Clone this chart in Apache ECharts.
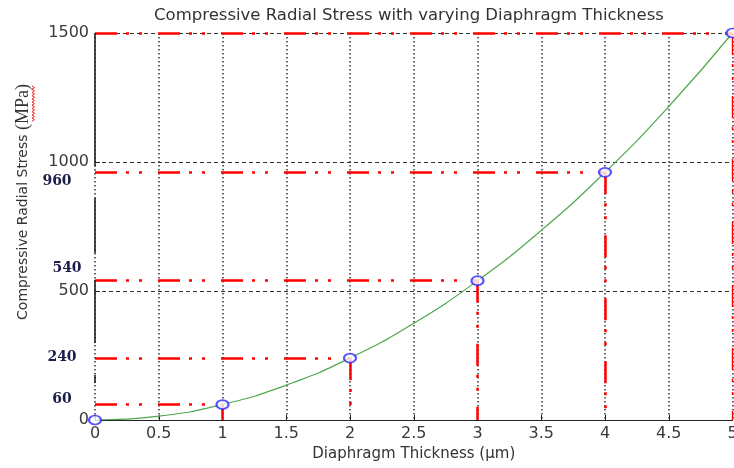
<!DOCTYPE html>
<html><head><meta charset="utf-8">
<script src="https://cdn.jsdelivr.net/npm/echarts@6/dist/echarts.min.js"></script>
<style>html,body{margin:0;padding:0;background:#fff}#c{width:734px;height:468px}</style>
</head><body><div id="c"></div>
<script>
// ---- data ----
var titleText = 'Compressive Radial Stress with varying Diaphragm Thickness';
var xName = 'Diaphragm Thickness (\u00b5m)';
var yNameMain = 'Compressive Radial Stress ';
var yNameUnit = '(MPa)';
// curve read at every 0.5 um grid line
var curveX = [0, 0.5, 1, 1.5, 2, 2.5, 3, 3.5, 4, 4.5, 5];
var curveY = [0, 15, 60, 135, 240, 375, 540, 735, 960, 1215, 1500];
// marked points
var pointX = [0, 1, 2, 3, 4, 5];
var pointY = [0, 60, 240, 540, 960, 1500];
// annotation labels beside the y axis
var noteLabels = ['960', '540', '240', '60'];
// visible pieces of the (partly covered) y-axis line, in stress units
var axisPieces = [[1500, 983], [860, 647], [543, 298], [174, 143]];
var xTicks = {min: 0, max: 5, interval: 0.5};
var yTicks = {min: 0, max: 1500, interval: 500};

var chart = echarts.init(document.getElementById('c'), null, {renderer: 'canvas'});
var font = 'DejaVu Sans';
var red = '#ff0000';
var dashDot = [22, 9, 3, 10, 3, 16];

var redLines = [];
for (var i = 1; i < pointX.length; i++) {
  var last = i === pointX.length - 1;
  redLines.push([{coord: [0, pointY[i]], lineStyle: {width: 2.5}}, {coord: [pointX[i], pointY[i]]}]);
  redLines.push([{coord: [pointX[i], pointY[i]], lineStyle: {width: last ? 1.4 : 2.5}}, {coord: [pointX[i], 0]}]);
}
var axisLines = axisPieces.map(function (p) { return [{coord: [0, p[0]]}, {coord: [0, p[1]]}]; });

var notePos = [[57, 181], [67, 268], [62, 357], [62, 399]];
var graphics = [
  {type: 'text', x: 409, y: 16, style: {text: titleText, font: '16.5px "DejaVu Sans"', fill: '#333', align: 'center', verticalAlign: 'middle'}},
  {type: 'text', x: 23, y: 202, rotation: Math.PI / 2,
   style: {text: '{a|' + yNameMain + '}{b|' + yNameUnit + '}', align: 'center', verticalAlign: 'middle',
     rich: {a: {fontFamily: font, fontSize: 14, fill: '#333', color: '#333'},
            b: {fontFamily: 'Liberation Serif', fontSize: 18, fill: '#333', color: '#333'}}}}
];
noteLabels.forEach(function (t, k) {
  graphics.push({type: 'text', x: notePos[k][0], y: notePos[k][1],
    style: {text: t, font: 'bold 14px "DejaVu Serif"', fill: '#1d1d4a', align: 'center', verticalAlign: 'middle'}});
});
var wave = [];
for (var yy = 86, s = 0; yy <= 122; yy += 1.6, s++) wave.push([s % 2 ? 34.5 : 32, yy]);
graphics.push({type: 'polyline', shape: {points: wave}, style: {stroke: '#e02020', lineWidth: 1, fill: null}});

chart.setOption({
  animation: false,
  backgroundColor: '#fff',
  grid: {left: 95, right: 1.5, top: 33, bottom: 48, containLabel: false, outerBoundsMode: 'none'},
  xAxis: {
    type: 'value', min: xTicks.min, max: xTicks.max, interval: xTicks.interval,
    name: xName, nameLocation: 'middle', nameGap: 27,
    nameTextStyle: {fontFamily: font, fontSize: 15, color: '#333'},
    axisLine: {show: true, onZero: false, lineStyle: {color: '#222', width: 1}},
    axisTick: {show: true, inside: true, length: 5, lineStyle: {color: '#222'}},
    axisLabel: {fontFamily: font, fontSize: 16, color: '#3a3a3a', margin: 6, formatter: function (v) { return String(v); }},
    splitLine: {show: true, lineStyle: {color: '#333', type: [1.5, 2.5], width: 1.5}}
  },
  yAxis: {
    type: 'value', min: yTicks.min, max: yTicks.max, interval: yTicks.interval,
    axisLine: {show: false},
    axisTick: {show: true, inside: true, length: 5, lineStyle: {color: '#222'}},
    axisLabel: {fontFamily: font, fontSize: 16, color: '#3a3a3a', margin: 6, formatter: function (v) { return String(v); }},
    splitLine: {show: true, lineStyle: {color: '#333', type: [4, 3], width: 1}}
  },
  graphic: graphics,
  series: [
    {type: 'line', data: [], silent: true,
     markLine: {silent: true, symbol: 'none', label: {show: false},
       lineStyle: {color: '#222', width: 1.6, type: 'solid'}, data: axisLines}},
    {type: 'line', smooth: true, showSymbol: false, silent: true,
     data: curveX.map(function (x, k) { return [x, curveY[k]]; }),
     lineStyle: {color: '#4ea84e', width: 1.2}, z: 3},
    {type: 'line', data: [], silent: true, z: 4,
     markLine: {silent: true, symbol: 'none', label: {show: false}, z: 4,
       lineStyle: {color: red, width: 2.5, type: dashDot}, data: redLines}},
    {type: 'scatter', symbol: 'emptyCircle', symbolSize: [12, 9], silent: true, z: 5,
     data: pointX.map(function (x, k) { return [x, pointY[k]]; }),
     itemStyle: {color: '#2a2aff', borderColor: '#2a2aff', borderWidth: 1.2}}
  ]
});
</script></body></html>
